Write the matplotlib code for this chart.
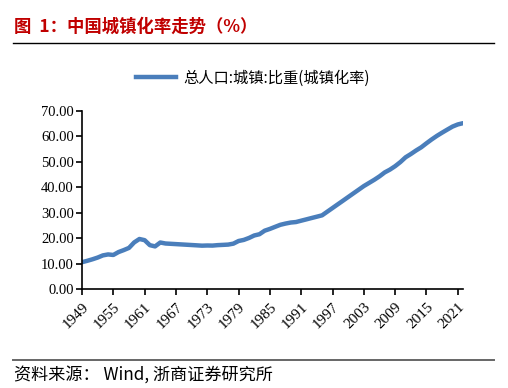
import matplotlib
matplotlib.use("Agg")
import matplotlib.pyplot as plt
from matplotlib.lines import Line2D

years = list(range(1949, 2023))
urban_rate = [10.64, 11.18, 11.78, 12.46, 13.31, 13.69, 13.48, 14.62, 15.39, 16.25,
              18.41, 19.75, 19.29, 17.33, 16.84, 18.37, 17.98, 17.86, 17.74, 17.62,
              17.50, 17.38, 17.26, 17.13, 17.20, 17.16, 17.34, 17.44, 17.55, 17.92,
              18.96, 19.39, 20.16, 21.13, 21.62, 23.01, 23.71, 24.52, 25.32, 25.81,
              26.21, 26.41, 26.94, 27.46, 27.99, 28.51, 29.04, 30.48, 31.91, 33.35,
              34.78, 36.22, 37.66, 39.09, 40.53, 41.76, 42.99, 44.34, 45.89, 46.99,
              48.34, 49.95, 51.83, 53.10, 54.49, 55.75, 57.33, 58.84, 60.24, 61.50,
              62.71, 63.89, 64.72, 65.22]
x_ticks = list(range(1949, 2022, 6))
y_ticks = [0, 10, 20, 30, 40, 50, 60, 70]

title = "图  1：中国城镇化率走势（%）"
legend_label = "总人口:城镇:比重(城镇化率)"
source = "资料来源： Wind, 浙商证券研究所"

cjk = ["Noto Sans CJK SC", "DejaVu Sans"]
serif = ["Liberation Serif", "DejaVu Serif"]
line_color = "#4A7EBB"

fig = plt.figure(figsize=(5.08, 3.88), dpi=100)
W, H = 508, 388

def fx(px):
    return px / W

def fy(py):
    return 1 - py / H

ax = fig.add_axes([fx(82), fy(289.3), fx(463) - fx(82), fy(111) - fy(289.3)])
ax.plot(years, urban_rate, color=line_color, lw=3.2, solid_capstyle="round")
ax.set_xlim(1949, 2022)
ax.set_ylim(0, 70)
ax.set_xticks(x_ticks)
ax.set_xticklabels([str(t) for t in x_ticks], rotation=45, ha="right",
                   rotation_mode="anchor", family=serif, fontsize=11)
ax.set_yticks(y_ticks)
ax.set_yticklabels([f"{v:.2f}" for v in y_ticks], family=serif, fontsize=10.5)
for s in ["top", "right"]:
    ax.spines[s].set_visible(False)
for s in ["left", "bottom"]:
    ax.spines[s].set_linewidth(1.2)
ax.tick_params(axis="both", direction="out", length=4, width=1.2, pad=2)
ax.tick_params(axis="x", pad=4)

# legend
handle = Line2D([0], [0], color=line_color, lw=3.2)
fig.legend([handle], [legend_label], loc="center",
           bbox_to_anchor=(fx(253), fy(78)), frameon=False,
           prop={"family": cjk, "size": 11}, handlelength=2.6, handletextpad=0.5)

# title and rules
fig.text(fx(14), fy(27), title, color="#C00000", fontsize=12.5, fontweight="bold",
         family=cjk, va="center", ha="left")
fig.add_artist(Line2D([fx(13), fx(494)], [fy(43), fy(43)], color="black", lw=1.0))
fig.add_artist(Line2D([fx(13), fx(494)], [fy(360), fy(360)], color="#666666", lw=1.4))
fig.text(fx(14), fy(376), source, color="black", fontsize=12.3, family=cjk,
         va="center", ha="left")

fig.savefig("out.png", dpi=100)
